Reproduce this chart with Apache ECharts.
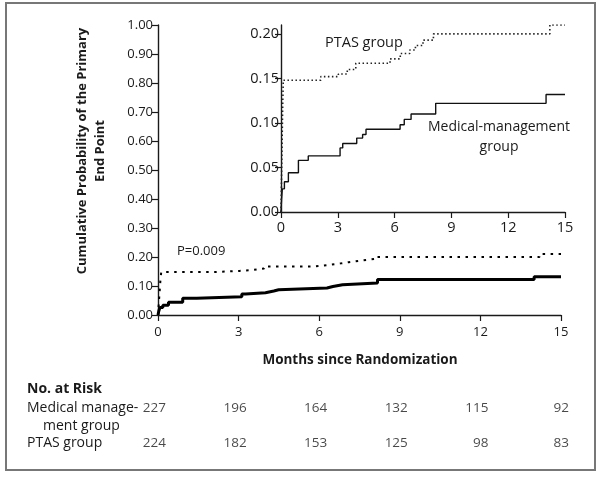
<!DOCTYPE html>
<html>
<head>
<meta charset="utf-8">
<script src="https://cdn.jsdelivr.net/npm/echarts@6/dist/echarts.min.js"></script>
<style>
  html, body { margin: 0; padding: 0; background: #fff; }
  #chart { width: 601px; height: 477px; }
</style>
</head>
<body>
<div id="chart"></div>
<script>
// step points (months, cumulative probability)
const medMonths = [0, 0.03, 0.07, 0.18, 0.39, 0.92, 1.44, 3.12, 3.26, 4.0, 4.31, 4.49, 6.29, 6.51, 6.87, 8.17, 14.0, 15];
const medValues = [0, 0.014, 0.026, 0.034, 0.044, 0.058, 0.063, 0.072, 0.077, 0.083, 0.087, 0.093, 0.098, 0.104, 0.110, 0.122, 0.132, 0.132];
const ptasMonths = [0, 0.03, 0.06, 0.09, 0.12, 2.1, 3.03, 3.5, 3.95, 5.76, 6.3, 6.8, 7.1, 7.5, 8.05, 14.2, 15];
const ptasValues = [0, 0.04, 0.08, 0.12, 0.148, 0.152, 0.155, 0.160, 0.167, 0.172, 0.178, 0.182, 0.187, 0.193, 0.200, 0.210, 0.210];

// tick labels
const mainYTicks = [0, 0.1, 0.2, 0.3, 0.4, 0.5, 0.6, 0.7, 0.8, 0.9, 1.0];
const insetYTicks = [0, 0.05, 0.1, 0.15, 0.2];

// number at risk table
const riskMonths = [0, 3, 6, 9, 12, 15];
const riskMedical = [227, 196, 164, 132, 115, 92];
const riskPtas = [224, 182, 153, 125, 98, 83];

const FONT = '"Open Sans", "Noto Sans", sans-serif';
const INK = '#1a1a1a';

const pairs = (xs, ys) => xs.map((x, i) => [x, ys[i]]);

const chart = echarts.init(document.getElementById('chart'));

// shared axis look
const axisBase = (fontSize, margin) => ({
  axisLine: { show: true, lineStyle: { color: INK, width: 1.4 } },
  axisTick: { show: true, length: 6, lineStyle: { color: INK, width: 1.2 } },
  splitLine: { show: false },
  axisLabel: { color: INK, fontFamily: FONT, fontSize: fontSize, margin: margin }
});

chart.setOption({
  backgroundColor: '#fff',
  animation: false,
  grid: [
    { left: 158, top: 25, right: 40, bottom: 162 },   // main plot
    { left: 281, top: 25, right: 36, bottom: 265 },   // inset (top is 0.21)
    { left: 158, top: 408, right: 40, bottom: 34 }    // at-risk rows
  ],
  xAxis: [
    Object.assign({ type: 'value', gridIndex: 0, min: 0, max: 15, interval: 3 }, axisBase(13, 11)),
    Object.assign({ type: 'value', gridIndex: 1, min: 0, max: 15, interval: 3 }, axisBase(14.5, 8)),
    { type: 'value', gridIndex: 2, min: 0, max: 15, show: false }
  ],
  yAxis: [
    Object.assign({ type: 'value', gridIndex: 0, min: 0, max: 1, interval: 0.1 }, axisBase(13, 5), {
      axisTick: { show: true, length: 6, lineStyle: { color: INK, width: 1.2 }, customValues: mainYTicks },
      axisLabel: { color: INK, fontFamily: FONT, fontSize: 13, margin: 5, customValues: mainYTicks, formatter: v => v.toFixed(2) }
    }),
    Object.assign({ type: 'value', gridIndex: 1, min: 0, max: 0.21 }, axisBase(14.5, 2), {
      axisTick: { show: true, length: 6, lineStyle: { color: INK, width: 1.2 }, customValues: insetYTicks },
      axisLabel: { color: INK, fontFamily: FONT, fontSize: 14.5, margin: 2, customValues: insetYTicks, formatter: v => v.toFixed(2) }
    }),
    { type: 'value', gridIndex: 2, min: 0, max: 1, show: false }
  ],
  series: [
    {
      name: 'Medical main', type: 'line', step: 'end', xAxisIndex: 0, yAxisIndex: 0,
      showSymbol: false, data: pairs(medMonths, medValues),
      lineStyle: { color: '#000', width: 3 }
    },
    {
      name: 'PTAS main', type: 'line', step: 'end', xAxisIndex: 0, yAxisIndex: 0,
      showSymbol: false, data: pairs(ptasMonths, ptasValues),
      lineStyle: { color: '#000', width: 2, type: [2.5, 5.5] }
    },
    {
      name: 'Medical inset', type: 'line', step: 'end', xAxisIndex: 1, yAxisIndex: 1,
      showSymbol: false, data: pairs(medMonths, medValues),
      lineStyle: { color: '#111', width: 1.4 }
    },
    {
      name: 'PTAS inset', type: 'line', step: 'end', xAxisIndex: 1, yAxisIndex: 1,
      showSymbol: false, data: pairs(ptasMonths, ptasValues),
      lineStyle: { color: '#222', width: 1.6, type: [1.5, 2.5] }
    },
    {
      name: 'Risk medical', type: 'scatter', xAxisIndex: 2, yAxisIndex: 2, symbolSize: 0,
      data: pairs(riskMonths, riskMedical.map(() => 1)),
      label: {
        show: true, position: 'inside', align: 'right', offset: [8, 0],
        formatter: p => riskMedical[p.dataIndex], color: INK, fontFamily: FONT, fontSize: 13.5
      }
    },
    {
      name: 'Risk PTAS', type: 'scatter', xAxisIndex: 2, yAxisIndex: 2, symbolSize: 0,
      data: pairs(riskMonths, riskPtas.map(() => 0)),
      label: {
        show: true, position: 'inside', align: 'right', offset: [8, 0],
        formatter: p => riskPtas[p.dataIndex], color: INK, fontFamily: FONT, fontSize: 13.5
      }
    }
  ],
  graphic: [
    // outer frame
    { type: 'rect', shape: { x: 6, y: 3, width: 589, height: 467 }, style: { fill: 'none', stroke: '#777', lineWidth: 2 }, silent: true },
    // y axis title
    {
      type: 'text', x: 91, y: 151, rotation: Math.PI / 2,
      style: {
        text: 'Cumulative Probability of the Primary\nEnd Point', fill: INK,
        font: 'bold 13px ' + FONT, align: 'center', verticalAlign: 'middle', lineHeight: 18
      }
    },
    { type: 'text', x: 360, y: 360, style: { text: 'Months since Randomization', fill: INK, font: 'bold 13.5px ' + FONT, align: 'center', verticalAlign: 'middle' } },
    { type: 'text', x: 177, y: 251, style: { text: 'P=0.009', fill: INK, font: '13px ' + FONT, verticalAlign: 'middle' } },
    { type: 'text', x: 325, y: 43, style: { text: 'PTAS group', fill: INK, font: '14.5px ' + FONT, verticalAlign: 'middle' } },
    { type: 'text', x: 499, y: 137, style: { text: 'Medical-management\ngroup', fill: INK, font: '14px ' + FONT, align: 'center', verticalAlign: 'middle', lineHeight: 20 } },
    // at-risk labels
    { type: 'text', x: 27, y: 389, style: { text: 'No. at Risk', fill: INK, font: 'bold 14px ' + FONT, verticalAlign: 'middle' } },
    { type: 'text', x: 27, y: 408, style: { text: 'Medical manage-', fill: INK, font: '14px ' + FONT, verticalAlign: 'middle' } },
    { type: 'text', x: 43, y: 426, style: { text: 'ment group', fill: INK, font: '14px ' + FONT, verticalAlign: 'middle' } },
    { type: 'text', x: 27, y: 443, style: { text: 'PTAS group', fill: INK, font: '14px ' + FONT, verticalAlign: 'middle' } }
  ]
});
</script>
</body>
</html>
